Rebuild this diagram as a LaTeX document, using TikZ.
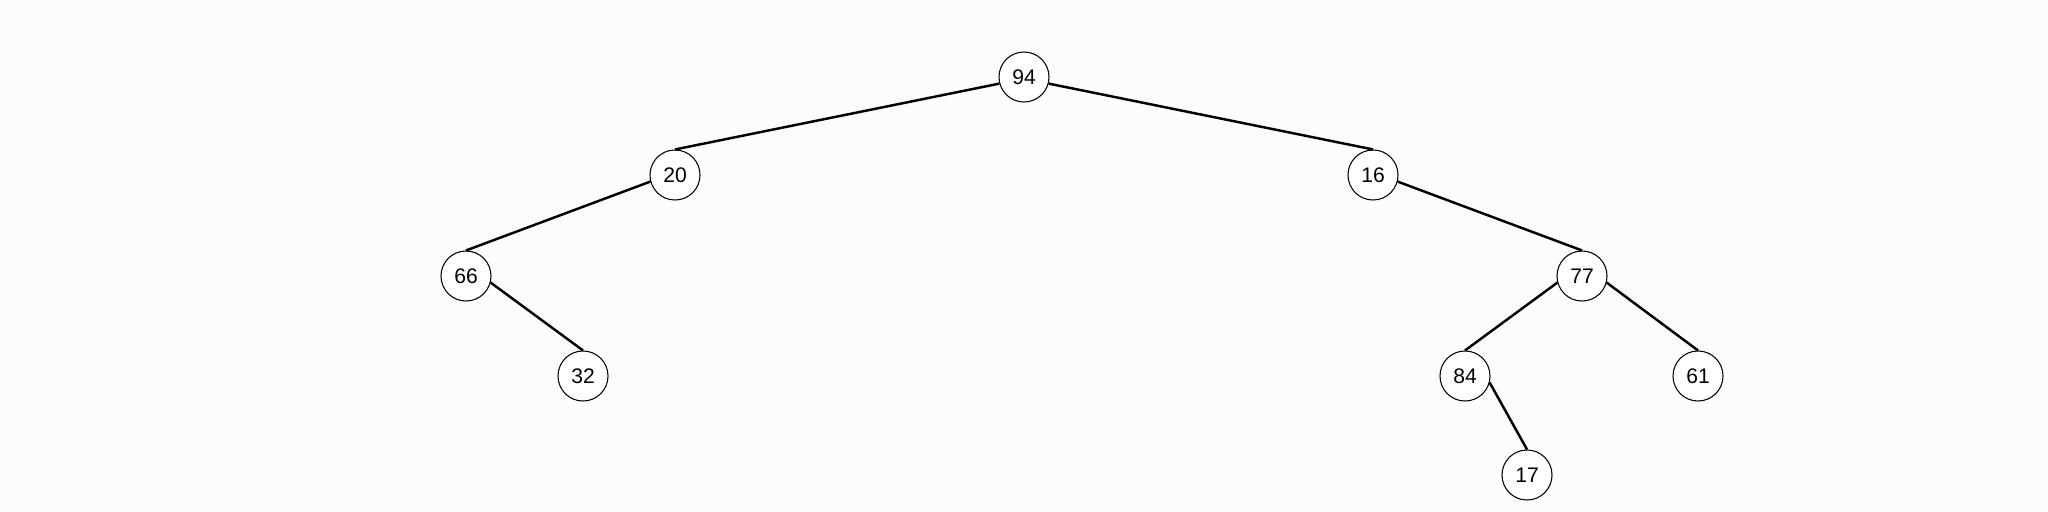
\documentclass[tikz,border=0pt]{standalone}
\usepackage{fontspec}
\setmainfont{Liberation Sans}
\usepackage{tikz}
\usetikzlibrary{arrows.meta,positioning}
\definecolor{pagebg}{RGB}{252,252,252}
\tikzset{
  keynode/.style={draw=black, circle, line width=0.3pt, fill=white, minimum size=0.5cm, inner sep=0pt, font=\fontsize{6}{7}\selectfont},
  treeedge/.style={line width=0.7pt}
}

\begin{document}
\begin{tikzpicture}[x=0.01cm, y=-0.01cm]
  \fill[pagebg] (0,0) rectangle (2048,512);
  \useasboundingbox (0,0) rectangle (2048,512);
  \node[keynode] (k94) at (1024,77) {94};
  \node[keynode] (k20) at (675,175) {20};
  \node[keynode] (k16) at (1373,175) {16};
  \node[keynode] (k66) at (466,276) {66};
  \node[keynode] (k32) at (583,376) {32};
  \node[keynode] (k77) at (1582,276) {77};
  \node[keynode] (k84) at (1465,376) {84};
  \node[keynode] (k61) at (1698,376) {61};
  \node[keynode] (k17) at (1527,475) {17};
  % left children leave from the west side, right children from the east side
  \draw[treeedge] (k94.195) -- (k20.north);
  \draw[treeedge] (k94.-15) -- (k16.north);
  \draw[treeedge] (k20.195) -- (k66.north);
  \draw[treeedge] (k66.-15) -- (k32.north);
  \draw[treeedge] (k16.-15) -- (k77.north);
  \draw[treeedge] (k77.195) -- (k84.north);
  \draw[treeedge] (k77.-15) -- (k61.north);
  \draw[treeedge] (k84.-15) -- (k17.north);
\end{tikzpicture}
\end{document}
